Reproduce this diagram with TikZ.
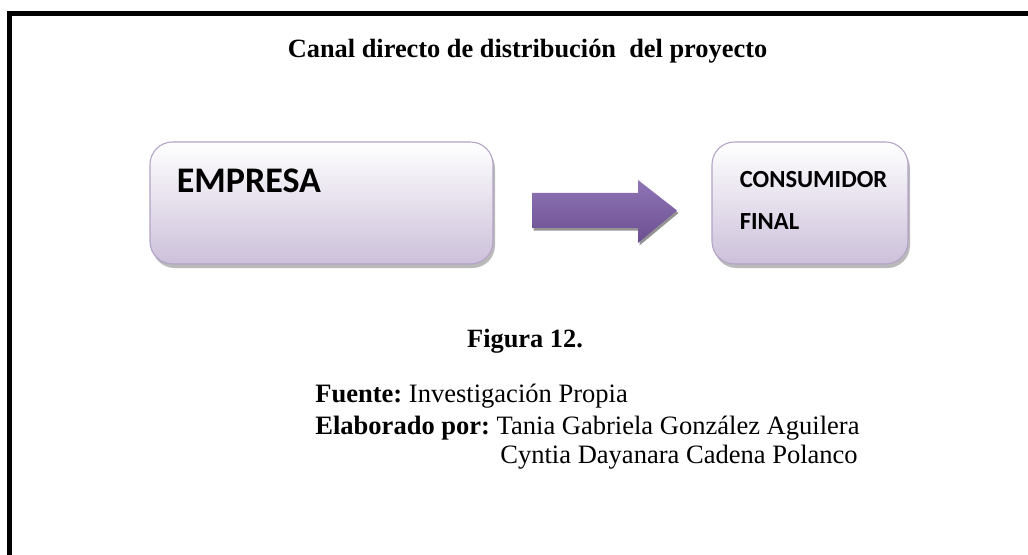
\documentclass[tikz,border=0pt]{standalone}
\usepackage{fontspec}
\setmainfont{Liberation Serif}
\newfontfamily\calibri{Carlito}
\usepackage{tikz}
\usetikzlibrary{positioning, calc, shadows}
\usepackage{xcolor}
\definecolor{xlila}{HTML}{CCC0DA}
\definecolor{xborde}{HTML}{B3A2C7}
\definecolor{xmorado}{HTML}{9075B6}
\definecolor{xmoradoosc}{HTML}{6B4F91}
\tikzset{
	caja/.style={rounded corners=0.45cm, draw=xborde, line width=0.6pt, top color=white, bottom color=xlila,
		minimum width=6.86cm, minimum height=2.44cm, inner sep=0pt,
		drop shadow={shadow xshift=0.04cm, shadow yshift=-0.08cm, opacity=0.45, fill=black!60}},
	rotulo/.style={font=\calibri\bfseries, anchor=base west, inner sep=0pt, align=left},
	texto/.style={font=\fontsize{15.1}{17}\selectfont\frenchspacing, inner sep=0pt},
}

\begin{document}
\frenchspacing
\begin{tikzpicture}
		\useasboundingbox (0,0) rectangle (20.56,11.08);
		\clip (0,0) rectangle (20.56,11.08);
		\draw[line width=0.1cm] (0.19,-2) -- (0.19,10.8) -- (23,10.8);

		\node[texto, anchor=base, font=\fontsize{15}{17}\selectfont\bfseries] (titulo) at (10.55,9.92) {Canal directo de distribución\ \ del proyecto};

		\node[caja] (empresa) at (6.43,7.02) {};
		\node[caja, minimum width=3.92cm] (consumidor) at (16.2,7.02) {};
		\node[rotulo, font=\calibri\bfseries\fontsize{20.5}{24}\selectfont] (tEmpresa) at ($(empresa.north west)+(0.54,-1.02)$) {EMPRESA};
		% base de un nodo de varias lineas = ultima linea
		\node[rotulo, font=\calibri\bfseries\fontsize{14}{23.8}\selectfont] (tConsumidor) at ($(consumidor.north west)+(0.56,-1.76)$) {CONSUMIDOR\\FINAL};

		\coordinate (F) at (10.64,6.87);
		\draw[draw=none, top color=xmorado, bottom color=xmoradoosc, drop shadow={shadow xshift=0.03cm, shadow yshift=-0.05cm, opacity=0.6, fill=black!70}]
			($(F)+(0,0.35)$) -- ($(F)+(2.12,0.35)$) -- ($(F)+(2.12,0.61)$) -- ($(F)+(2.9,0)$) -- ($(F)+(2.12,-0.65)$) -- ($(F)+(2.12,-0.35)$) -- ($(F)+(0,-0.35)$) -- cycle;

		\node[texto, anchor=base, font=\fontsize{15}{17}\selectfont\bfseries] (figura) at (10.5,4.14) {Figura 12.};
		\node[texto, anchor=base west] (fuente) at (6.3,3.04) {\textbf{Fuente:} Investigación Propia};
		\node[texto, anchor=base west] (elaborado) at (6.3,2.40) {\textbf{Elaborado por:} Tania Gabriela González Aguilera};
		\node[texto, anchor=base west] (autora) at (10.0,1.82) {Cyntia Dayanara Cadena Polanco};
	\end{tikzpicture}
\end{document}
